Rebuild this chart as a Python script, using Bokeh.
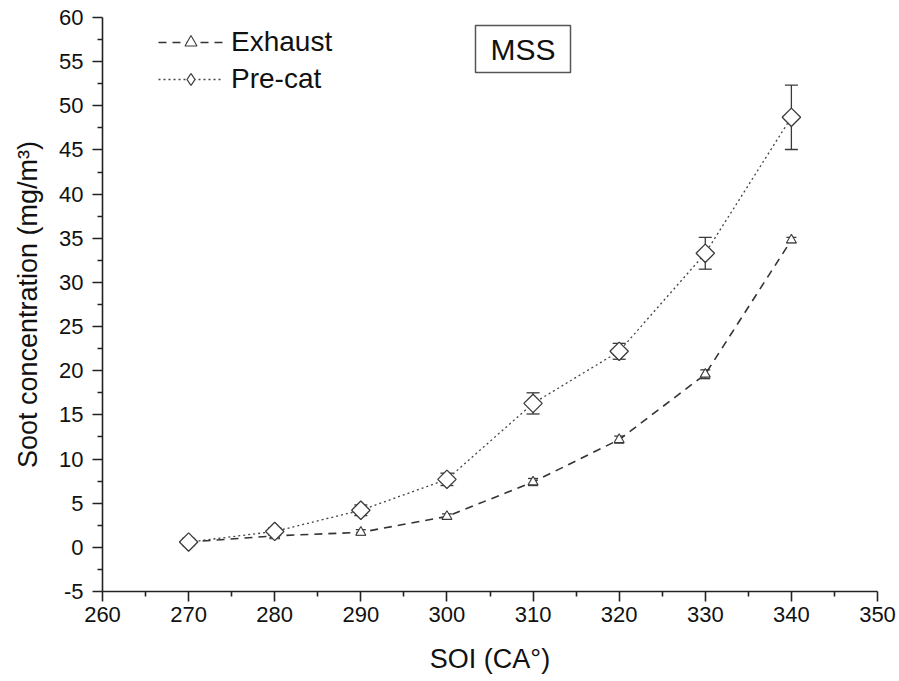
from bokeh.plotting import figure
from bokeh.models import (Range1d, FixedTicker, Whisker, TeeHead, ColumnDataSource,
                          Legend, LegendItem, Label, PrintfTickFormatter)
from bokeh.embed import file_html
from bokeh.resources import INLINE
import numpy as np

# ---- data ----
soi = [270, 280, 290, 300, 310, 320, 330, 340]
exhaust = [0.6, 1.3, 1.7, 3.5, 7.4, 12.2, 19.6, 34.8]
exhaust_err = [0.3, 0.2, 0.3, 0.3, 0.4, 0.4, 0.5, 0.3]
precat = [0.6, 1.8, 4.2, 7.7, 16.3, 22.2, 33.3, 48.7]
precat_err = [0.4, 0.4, 0.6, 0.7, 1.2, 0.9, 1.8, 3.65]

x_ticks = [260, 270, 280, 290, 300, 310, 320, 330, 340, 350]
y_ticks = [-5, 0, 5, 10, 15, 20, 25, 30, 35, 40, 45, 50, 55, 60]

FONT = "Liberation Sans"
INK = "#3a3a3a"

p = figure(width=899, height=681, output_backend="svg", toolbar_location=None,
           x_range=Range1d(260, 350), y_range=Range1d(-5, 60),
           min_border_left=102, min_border_right=22, min_border_top=17,
           min_border_bottom=90)
p.outline_line_color = None
p.xgrid.visible = False
p.ygrid.visible = False
p.background_fill_color = "white"
p.border_fill_color = "white"

ex_src = ColumnDataSource(dict(x=soi, y=exhaust,
                               lo=list(np.array(exhaust) - np.array(exhaust_err)),
                               hi=list(np.array(exhaust) + np.array(exhaust_err))))
pc_src = ColumnDataSource(dict(x=soi, y=precat,
                               lo=list(np.array(precat) - np.array(precat_err)),
                               hi=list(np.array(precat) + np.array(precat_err))))

# error bars
for src, cap in ((pc_src, 13), (ex_src, 10)):
    w = Whisker(base="x", upper="hi", lower="lo", source=src,
                line_color=INK, line_width=1.3,
                upper_head=TeeHead(size=cap, line_color=INK, line_width=1.3),
                lower_head=TeeHead(size=cap, line_color=INK, line_width=1.3))
    p.add_layout(w)

l_ex = p.line("x", "y", source=ex_src, line_color="#333333", line_width=1.6,
              line_dash="8 6")
s_ex = p.scatter("x", "y", source=ex_src, marker="triangle", size=10,
                 line_color=INK, line_width=1.1, fill_color="white")
l_pc = p.line("x", "y", source=pc_src, line_color="#444444", line_width=1.3,
              line_dash="2 3")
s_pc = p.scatter("x", "y", source=pc_src, marker="square", angle=np.pi / 4,
                 size=13, line_color=INK, line_width=1.3, fill_color="white")
# legend-only diamond glyph (NaN point -> nothing drawn in the plot area)
leg_src = ColumnDataSource(dict(x=[float("nan")], y=[float("nan")]))
leg_pc = p.scatter("x", "y", source=leg_src, marker="diamond", size=13,
                   line_color=INK, line_width=1.3, fill_color="white")

# axes
for ax in (p.xaxis[0], p.yaxis[0]):
    ax.axis_line_color = "#222222"
    ax.axis_line_width = 1.6
    ax.major_tick_line_color = "#222222"
    ax.major_tick_line_width = 1.6
    ax.minor_tick_line_color = "#222222"
    ax.minor_tick_line_width = 1.6
    ax.major_tick_in = 0
    ax.major_tick_out = 10
    ax.minor_tick_in = 0
    ax.minor_tick_out = 5
    ax.major_label_text_font = FONT
    ax.major_label_text_font_size = "22px"
    ax.major_label_text_color = "#111111"
    ax.axis_label_text_font = FONT
    ax.axis_label_text_font_size = "27px"
    ax.axis_label_text_font_style = "normal"
    ax.axis_label_text_color = "#111111"
    ax.formatter = PrintfTickFormatter(format="%d")

p.xaxis.major_label_standoff = 5
p.yaxis.major_label_standoff = 9
p.xaxis.ticker = FixedTicker(ticks=x_ticks,
                             minor_ticks=[t + 5 for t in x_ticks[:-1]])
p.yaxis.ticker = FixedTicker(ticks=y_ticks,
                             minor_ticks=[t + 2.5 for t in y_ticks[:-1]])
p.xaxis.axis_label = "SOI (CA°)"
p.yaxis.axis_label = "Soot concentration (mg/m³)"
p.xaxis.axis_label_standoff = 19
p.yaxis.axis_label_standoff = 13

legend = Legend(items=[LegendItem(label="Exhaust", renderers=[l_ex, s_ex]),
                       LegendItem(label="Pre-cat", renderers=[l_pc, leg_pc])],
                location=(56, 496), orientation="vertical",
                border_line_color=None, background_fill_alpha=0,
                label_text_font=FONT, label_text_font_size="28px",
                label_text_color="#111111",
                glyph_width=65, glyph_height=30, label_height=30,
                label_standoff=8, spacing=5, padding=0, margin=0)
p.add_layout(legend)

mss = Label(x=420.5, y=542.5, x_units="screen", y_units="screen", text="MSS",
            text_align="center", text_baseline="middle", text_font=FONT,
            text_font_size="30px", text_color="#111111",
            border_line_color="#555555", border_line_width=1.5,
            background_fill_color="white",
            padding=dict(left=15, right=15, top=7, bottom=7))
p.add_layout(mss)

open("out.html", "w").write(file_html(p, INLINE))
